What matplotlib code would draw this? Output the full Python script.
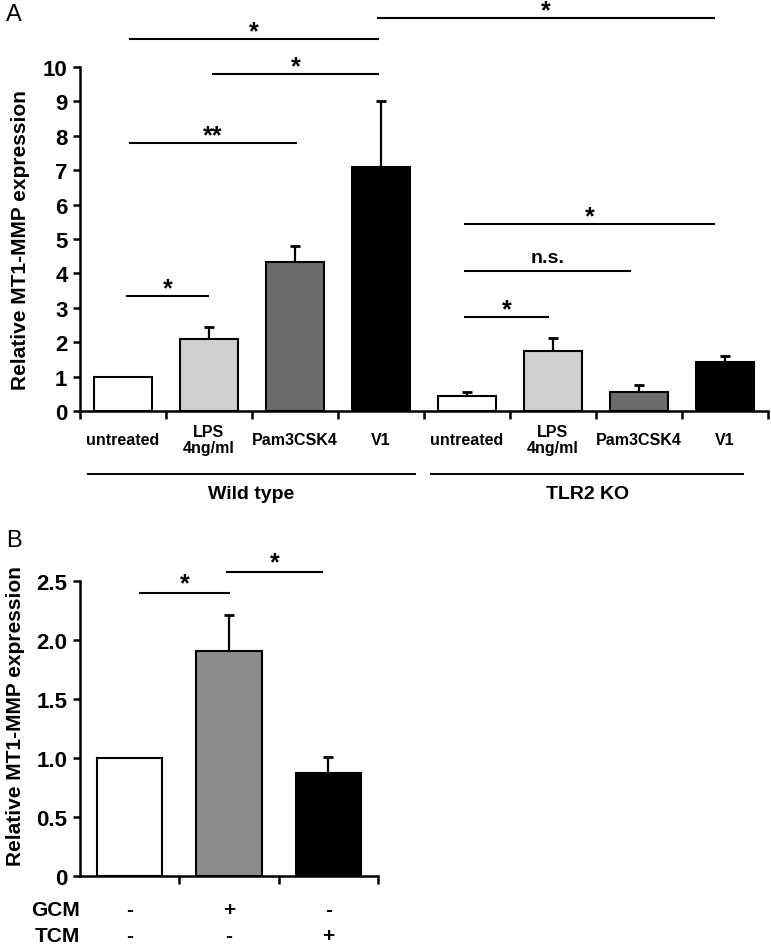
import matplotlib
matplotlib.use("Agg")
import matplotlib.pyplot as plt

plt.rcParams['font.family'] = ['Liberation Sans', 'DejaVu Sans']
plt.rcParams['font.weight'] = 'bold'
plt.rcParams['axes.labelweight'] = 'bold'

# Panel A data
cats_a = ["untreated", "LPS\n4ng/ml", "Pam3CSK4", "V1",
          "untreated", "LPS\n4ng/ml", "Pam3CSK4", "V1"]
vals_a = [1.0, 2.09, 4.33, 7.1, 0.44, 1.75, 0.55, 1.42]
err_a = [0.0, 0.35, 0.47, 1.9, 0.1, 0.37, 0.2, 0.18]
cols_a = ['white', '#d0d0d0', '#6c6c6c', 'black'] * 2
groups_a = ["Wild type", "TLR2 KO"]

# significance brackets panel A: (x1, x2, y, label)
sig_a = [(0.08, 2.97, 10.81, "*"), (2.97, 6.87, 11.42, "*"),
         (1.05, 2.97, 9.8, "*"), (0.08, 2.01, 7.79, "**"),
         (0.05, 0.99, 3.34, "*"), (3.98, 6.87, 5.44, "*"),
         (3.98, 5.9, 4.07, "n.s."), (3.98, 4.94, 2.73, "*")]

# Panel B data
vals_b = [1.0, 1.91, 0.87]
err_b = [0.0, 0.3, 0.14]
cols_b = ['white', '#8c8c8c', 'black']
gcm = ["-", "+", "-"]
tcm = ["-", "-", "+"]
sig_b = [(0.1, 1.0, 2.40, "*"), (0.98, 1.94, 2.58, "*")]

fig = plt.figure(figsize=(7.71, 9.45), dpi=100)

def style(ax):
    for s in ['top', 'right']:
        ax.spines[s].set_visible(False)
    for s in ['left', 'bottom']:
        ax.spines[s].set_linewidth(1.8)
    ax.tick_params(axis='y', direction='out', length=5, width=1.8, labelsize=16, pad=4)
    ax.tick_params(axis='x', direction='out', length=6, width=1.8, labelbottom=False)

# ---- Panel A
ax = fig.add_axes([80/771, 1-412/945, 688/771, 344/945])
n = len(vals_a)
xs = list(range(n))
ax.bar(xs, vals_a, width=0.67, color=cols_a, edgecolor='black', linewidth=1.5, zorder=2)
ax.errorbar(xs, vals_a, yerr=[[0]*n, err_a], fmt='none', ecolor='black',
            elinewidth=1.6, capsize=3.6, capthick=2, zorder=1)
ax.set_xlim(-0.5, n - 0.5)
ax.set_ylim(0, 10)
ax.set_yticks(range(0, 11))
ax.set_xticks([i - 0.5 for i in range(n + 1)])
style(ax)
ax.set_ylabel("Relative MT1-MMP expression", fontsize=15)
ax.yaxis.set_label_coords(-0.073, 0.5)
tr = ax.get_xaxis_transform()
for i, c in enumerate(cats_a):
    ax.text(i, -0.084, c, transform=tr, ha='center', va='center', fontsize=11.5,
            linespacing=1.1)
ax.plot([-0.41, 3.4], [-0.183, -0.183], transform=tr, color='black', lw=1.4, clip_on=False)
ax.plot([3.58, 7.21], [-0.183, -0.183], transform=tr, color='black', lw=1.4, clip_on=False)
ax.text(1.49, -0.241, groups_a[0], transform=tr, ha='center', va='center', fontsize=14)
ax.text(5.4, -0.241, groups_a[1], transform=tr, ha='center', va='center', fontsize=14)
for x1, x2, y, lab in sig_a:
    ax.plot([x1, x2], [y, y], color='black', lw=1.5, clip_on=False)
    if lab == "n.s.":
        ax.text((x1 + x2) / 2, y + 0.15, lab, ha='center', va='bottom', fontsize=14)
    else:
        ax.text((x1 + x2) / 2, y - 0.12, lab, ha='center', va='bottom', fontsize=18)

# ---- Panel B
bx = fig.add_axes([80/771, 1-877/945, 298/771, 295/945])
m = len(vals_b)
xb = list(range(m))
bx.bar(xb, vals_b, width=0.66, color=cols_b, edgecolor='black', linewidth=1.5, zorder=2)
bx.errorbar(xb, vals_b, yerr=[[0]*m, err_b], fmt='none', ecolor='black',
            elinewidth=1.6, capsize=3.6, capthick=2, zorder=1)
bx.set_xlim(-0.5, m - 0.5)
bx.set_ylim(0, 2.5)
bx.set_yticks([0, 0.5, 1.0, 1.5, 2.0, 2.5])
bx.set_yticklabels(["0", "0.5", "1.0", "1.5", "2.0", "2.5"])
bx.set_xticks([0.5, 1.5, 2.5])
style(bx)
bx.set_ylabel("Relative MT1-MMP expression", fontsize=15)
bx.yaxis.set_label_coords(-0.185, 0.546)
trb = bx.get_xaxis_transform()
bx.text(0, -0.112, "GCM", transform=bx.transAxes, ha='right', va='center', fontsize=15)
bx.text(0, -0.203, "TCM", transform=bx.transAxes, ha='right', va='center', fontsize=15)
for i in range(m):
    bx.text(i, -0.112, gcm[i], transform=trb, ha='center', va='center', fontsize=15)
    bx.text(i, -0.203, tcm[i], transform=trb, ha='center', va='center', fontsize=15)
for x1, x2, y, lab in sig_b:
    bx.plot([x1, x2], [y, y], color='black', lw=1.5, clip_on=False)
    bx.text((x1 + x2) / 2, y - 0.02, lab, ha='center', va='bottom', fontsize=18)

fig.text(6/771, 1-4/945, "A", ha='left', va='top', fontsize=17, fontweight='normal')
fig.text(6/771, 1-530/945, "B", ha='left', va='top', fontsize=17, fontweight='normal')

fig.savefig("out.png", dpi=100)
